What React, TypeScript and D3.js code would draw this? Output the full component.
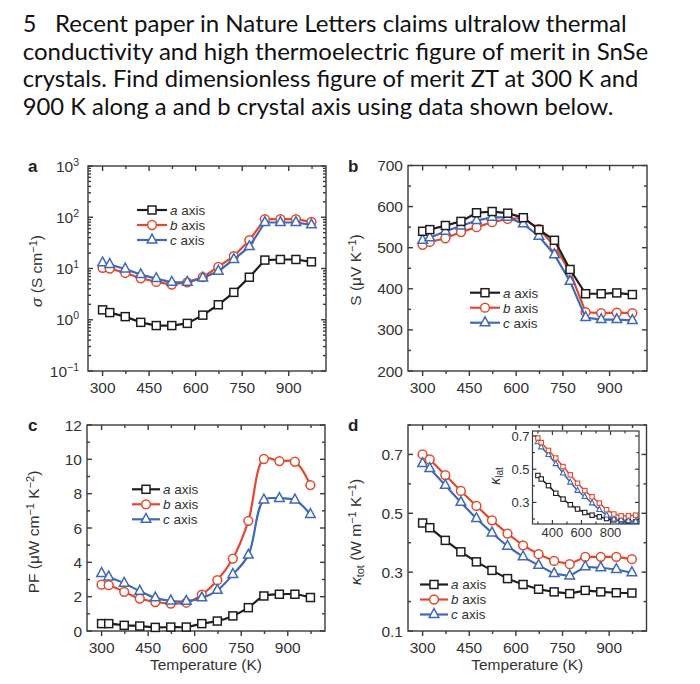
import React from 'react';
import * as d3 from 'd3';

// ---------------- data ----------------
const temperatures = [300, 323, 373, 423, 473, 523, 573, 623, 673, 723, 773, 823, 873, 923, 973];

const sigmaA = [1.56, 1.38, 1.15, 0.89, 0.77, 0.77, 0.85, 1.23, 1.96, 3.42, 6.76, 14.6, 15.0, 15.0, 13.5];
const sigmaB = [10.3, 10.0, 8.2, 6.45, 5.47, 4.85, 5.38, 6.76, 10.8, 17.5, 35.6, 92, 92, 92, 81.5];
const sigmaC = [12.9, 12.0, 9.8, 7.6, 6.36, 5.38, 5.38, 6.55, 8.87, 15.0, 26.7, 79, 79, 79, 71];

const seebeckA = [540, 544, 554, 564, 585, 588, 584, 573, 544, 518, 447, 388, 388, 390, 386];
const seebeckB = [507, 514, 523, 538, 550, 562, 570, 572, 546, 504, 441, 343, 341, 342, 341];
const seebeckC = [518, 524, 540, 553, 566, 574, 574, 558, 528, 483, 418, 330, 325, 325, 323];

const pfA = [0.43, 0.43, 0.33, 0.29, 0.21, 0.23, 0.23, 0.43, 0.58, 0.88, 1.36, 2.04, 2.14, 2.14, 1.95];
const pfB = [2.7, 2.67, 2.28, 1.89, 1.69, 1.6, 1.65, 2.12, 2.96, 4.22, 6.42, 10.02, 9.9, 9.86, 8.5];
const pfC = [3.35, 3.15, 2.78, 2.32, 1.93, 1.75, 1.73, 1.93, 2.37, 3.29, 4.42, 7.63, 7.72, 7.63, 6.79];

const kappaA = [0.467, 0.451, 0.408, 0.369, 0.335, 0.306, 0.278, 0.258, 0.242, 0.233, 0.227, 0.238, 0.233, 0.23, 0.229];
const kappaB = [0.7, 0.683, 0.63, 0.576, 0.525, 0.476, 0.431, 0.391, 0.361, 0.338, 0.327, 0.352, 0.352, 0.352, 0.344];
const kappaC = [0.669, 0.652, 0.595, 0.537, 0.482, 0.433, 0.388, 0.352, 0.323, 0.295, 0.287, 0.318, 0.315, 0.309, 0.298];

const kLatA = [0.462, 0.441, 0.401, 0.355, 0.32, 0.286, 0.26, 0.239, 0.223, 0.213, 0.203, 0.195, 0.189, 0.185, 0.183];
const kLatB = [0.688, 0.66, 0.613, 0.567, 0.516, 0.466, 0.415, 0.371, 0.334, 0.296, 0.256, 0.23, 0.219, 0.219, 0.223];
const kLatC = [0.664, 0.633, 0.587, 0.532, 0.476, 0.421, 0.371, 0.334, 0.296, 0.256, 0.223, 0.199, 0.195, 0.189, 0.185];

const seriesNames = ['a', 'b', 'c'];
const xTickLabels = [300, 450, 600, 750, 900];
const xMinorTicks = [375, 525, 675, 825, 975];
const insetXTicks = [400, 600, 800];
const insetXMinor = [300, 500, 700, 900];

const titleFirst = 'Recent paper in Nature Letters claims ultralow thermal';
const titleLines = [
  'conductivity and high thermoelectric figure of merit in SnSe',
  'crystals. Find dimensionless figure of merit ZT at 300 K and',
  '900 K along a and b crystal axis using data shown below.',
];

// ---------------- style / layout ----------------
const FONT = '"Liberation Sans", Arial, Helvetica, sans-serif';
const TXT = '#333';
const AXC = '#3a3a3a';
const COLORS: Record<string, string> = { a: '#1e1e1e', b: '#e04a2e', c: '#4068b8' };
const SHAPES: Record<string, string> = { a: 'square', b: 'circle', c: 'triangle' };
const INSET_SHAPES: Record<string, string> = { a: 'square', b: 'square', c: 'triangle' };
const X_DOMAIN: [number, number] = [253, 1020];
const TICK_FS = 15.5;
const TITLE_FS = 15.5;
const LEG_FS = 13.5;
const LEG_GAP = 15;

type Box = { x0: number; x1: number; y0: number; y1: number };

function Marker({ shape, x, y, s, color, sw }: any) {
  if (shape === 'square')
    return <rect x={x - s / 2} y={y - s / 2} width={s} height={s} fill="#fff" stroke={color} strokeWidth={sw} />;
  if (shape === 'circle') return <circle cx={x} cy={y} r={s / 2 + 0.4} fill="#fff" stroke={color} strokeWidth={sw} />;
  const h = s * 1.0;
  const w = s * 1.2;
  const pts = `${x},${y - (h * 2) / 3 - 0.5} ${x - w / 2},${y + h / 3 + 0.3} ${x + w / 2},${y + h / 3 + 0.3}`;
  return <polygon points={pts} fill="#fff" stroke={color} strokeWidth={sw} strokeLinejoin="miter" />;
}

function Series({ xs, ys, vals, name, curve, lw, s, sw, shapes }: any) {
  const color = COLORS[name];
  const shp = (shapes || SHAPES)[name];
  const line = d3
    .line<number>()
    .x((_, i) => xs(temperatures[i]))
    .y((d) => ys(d))
    .curve(curve || d3.curveLinear);
  return (
    <g>
      <path d={line(vals) || ''} fill="none" stroke={color} strokeWidth={lw} />
      {vals.map((v: number, i: number) => (
        <Marker key={i} shape={shp} x={xs(temperatures[i])} y={ys(v)} s={s} color={color} sw={sw} />
      ))}
    </g>
  );
}

function Frame({ b, xs, ys, xMajor, xMinor, yMajor, yMinor, majorLen = 5, minorLen = 3, sw = 1.4, bottomOut = true }: any) {
  const ls: any[] = [];
  let k = 0;
  const addX = (v: number, len: number) => {
    const x = xs(v);
    ls.push(<line key={k++} x1={x} x2={x} y1={b.y1} y2={bottomOut ? b.y1 + len : b.y1 - len} />);
    ls.push(<line key={k++} x1={x} x2={x} y1={b.y0} y2={b.y0 + len} />);
  };
  const addY = (v: number, len: number) => {
    const y = ys(v);
    ls.push(<line key={k++} x1={b.x0} x2={b.x0 + len} y1={y} y2={y} />);
    ls.push(<line key={k++} x1={b.x1} x2={b.x1 - len} y1={y} y2={y} />);
  };
  xMajor.forEach((v: number) => addX(v, majorLen));
  xMinor.forEach((v: number) => addX(v, minorLen));
  yMajor.forEach((v: number) => addY(v, majorLen));
  yMinor.forEach((v: number) => addY(v, minorLen));
  return (
    <g stroke={AXC} strokeWidth={sw} fill="none">
      {ls}
      <rect x={b.x0} y={b.y0} width={b.x1 - b.x0} height={b.y1 - b.y0} />
    </g>
  );
}

function XLabels({ b, xs, ticks, dy = 22, fs = TICK_FS }: any) {
  return (
    <g fontFamily={FONT} fontSize={fs} fill={TXT} textAnchor="middle">
      {ticks.map((t: number) => (
        <text key={t} x={xs(t)} y={b.y1 + dy}>
          {t}
        </text>
      ))}
    </g>
  );
}

function YLabels({ b, ys, ticks, fmt, fs = TICK_FS, gap = 5 }: any) {
  return (
    <g fontFamily={FONT} fontSize={fs} fill={TXT} textAnchor="end">
      {ticks.map((t: number) => (
        <text key={t} x={b.x0 - gap} y={ys(t) + fs * 0.36}>
          {fmt ? fmt(t) : t}
        </text>
      ))}
    </g>
  );
}

function Legend({ x1, x2, tx, mid }: any) {
  return (
    <g>
      {seriesNames.map((n, i) => {
        const y = mid + (i - 1) * LEG_GAP;
        const c = COLORS[n];
        return (
          <g key={n}>
            <line x1={x1} x2={x2} y1={y} y2={y} stroke={c} strokeWidth={2.2} />
            <Marker shape={SHAPES[n]} x={(x1 + x2) / 2} y={y} s={8} color={c} sw={1.5} />
            <text x={tx} y={y + 4.8} fontFamily={FONT} fontSize={LEG_FS} fill={TXT}>
              <tspan fontStyle="italic">{n}</tspan> axis
            </text>
          </g>
        );
      })}
    </g>
  );
}

function PanelLetter({ x, y, t }: any) {
  return (
    <text x={x} y={y} fontFamily={FONT} fontWeight="bold" fontSize={17} fill="#222">
      {t}
    </text>
  );
}

const boxA: Box = { x0: 88, x1: 326, y0: 166, y1: 371 };
const boxB: Box = { x0: 408, x1: 647, y0: 165.5, y1: 371 };
const boxC: Box = { x0: 87, x1: 325, y0: 425, y1: 631 };
const boxD: Box = { x0: 408, x1: 646.5, y0: 425, y1: 631 };
const boxIn: Box = { x0: 532.5, x1: 639, y0: 431, y1: 524 };

export default function App() {
  const xsA = d3.scaleLinear().domain(X_DOMAIN).range([boxA.x0, boxA.x1]);
  const ysA = d3.scaleLog().domain([0.1, 1000]).range([boxA.y1, boxA.y0]);
  const xsB = d3.scaleLinear().domain(X_DOMAIN).range([boxB.x0, boxB.x1]);
  const ysB = d3.scaleLinear().domain([200, 700]).range([boxB.y1, boxB.y0]);
  const xsC = d3.scaleLinear().domain(X_DOMAIN).range([boxC.x0, boxC.x1]);
  const ysC = d3.scaleLinear().domain([0, 12]).range([boxC.y1, boxC.y0]);
  const xsD = d3.scaleLinear().domain(X_DOMAIN).range([boxD.x0, boxD.x1]);
  const ysD = d3.scaleLinear().domain([0.1, 0.8]).range([boxD.y1, boxD.y0]);
  const xsI = d3.scaleLinear().domain([263, 996]).range([boxIn.x0, boxIn.x1]);
  const ysI = d3.scaleLinear().domain([0.17, 0.73]).range([boxIn.y1, boxIn.y0]);

  const logMajor = [0.1, 1, 10, 100, 1000];
  const logMinor: number[] = [];
  [0.1, 1, 10, 100].forEach((d) => {
    for (let m = 2; m <= 9; m++) logMinor.push(d * m);
  });
  const expLabel = (t: number) => {
    const e = Math.round(Math.log10(t));
    return (
      <>
        10
        <tspan dy={-6} fontSize={10.5}>
          {e < 0 ? '\u2212' + Math.abs(e) : String(e)}
        </tspan>
      </>
    );
  };

  const mainStyle = { lw: 2.2, s: 8, sw: 1.5 };
  const insetStyle = { lw: 1.5, s: 4.4, sw: 1.1, shapes: INSET_SHAPES };
  const smooth = d3.curveCatmullRom.alpha(0.5);

  return (
    <svg
      width={700}
      height={684}
      viewBox="0 0 700 684"
      style={{ position: 'absolute', left: 0, top: 0, background: '#fff' }}
    >
      <rect width={700} height={684} fill="#fff" />

      {/* Title */}
      <g fontFamily="Lato, 'Open Sans', sans-serif" fontSize={23} fill="#111">
        <text x={23} y={31.7}>
          5
        </text>
        <text x={55} y={31.7} textLength={571.7} lengthAdjust="spacingAndGlyphs">
          {titleFirst}
        </text>
        {titleLines.map((t, i) => (
          <text
            key={i}
            x={22.7}
            y={59.5 + i * 27.8}
            textLength={[625.6, 615.6, 590.6][i]}
            lengthAdjust="spacingAndGlyphs"
          >
            {t}
          </text>
        ))}
      </g>

      {/* Panel a */}
      <PanelLetter x={28} y={172} t="a" />
      <Frame b={boxA} xs={xsA} ys={ysA} xMajor={xTickLabels} xMinor={xMinorTicks} yMajor={logMajor} yMinor={logMinor} />
      <XLabels b={boxA} xs={xsA} ticks={xTickLabels} />
      <YLabels b={boxA} ys={ysA} ticks={logMajor} fmt={expLabel} gap={9} />
      <Series xs={xsA} ys={ysA} vals={sigmaB} name="b" {...mainStyle} />
      <Series xs={xsA} ys={ysA} vals={sigmaC} name="c" {...mainStyle} />
      <Series xs={xsA} ys={ysA} vals={sigmaA} name="a" {...mainStyle} />
      <Legend x1={137} x2={167} tx={170} mid={225} />
      <text transform="translate(42,271) rotate(-90)" textAnchor="middle" fontFamily={FONT} fontSize={TITLE_FS} fill={TXT}>
        <tspan fontStyle="italic">σ</tspan> (S cm
        <tspan dy={-5} fontSize={11}>
          −1
        </tspan>
        <tspan dy={5}>)</tspan>
      </text>

      {/* Panel b */}
      <PanelLetter x={348} y={172} t="b" />
      <Frame b={boxB} xs={xsB} ys={ysB} xMajor={xTickLabels} xMinor={xMinorTicks} yMajor={[200, 300, 400, 500, 600, 700]} yMinor={[250, 350, 450, 550, 650]} />
      <XLabels b={boxB} xs={xsB} ticks={xTickLabels} />
      <YLabels b={boxB} ys={ysB} ticks={[200, 300, 400, 500, 600, 700]} />
      <Series xs={xsB} ys={ysB} vals={seebeckB} name="b" {...mainStyle} />
      <Series xs={xsB} ys={ysB} vals={seebeckC} name="c" {...mainStyle} />
      <Series xs={xsB} ys={ysB} vals={seebeckA} name="a" {...mainStyle} />
      <Legend x1={470} x2={500} tx={503} mid={307.7} />
      <text transform="translate(361,270) rotate(-90)" textAnchor="middle" fontFamily={FONT} fontSize={TITLE_FS} fill={TXT}>
        S (μV K
        <tspan dy={-5} fontSize={11}>
          −1
        </tspan>
        <tspan dy={5}>)</tspan>
      </text>

      {/* Panel c */}
      <PanelLetter x={28} y={431} t="c" />
      <Frame b={boxC} xs={xsC} ys={ysC} xMajor={xTickLabels} xMinor={xMinorTicks} yMajor={[0, 2, 4, 6, 8, 10, 12]} yMinor={[1, 3, 5, 7, 9, 11]} />
      <XLabels b={boxC} xs={xsC} ticks={xTickLabels} />
      <YLabels b={boxC} ys={ysC} ticks={[0, 2, 4, 6, 8, 10, 12]} />
      <Series xs={xsC} ys={ysC} vals={pfB} name="b" curve={smooth} {...mainStyle} />
      <Series xs={xsC} ys={ysC} vals={pfC} name="c" curve={smooth} {...mainStyle} />
      <Series xs={xsC} ys={ysC} vals={pfA} name="a" curve={smooth} {...mainStyle} />
      <Legend x1={132} x2={160} tx={163} mid={504.3} />
      <text transform="translate(39,532) rotate(-90)" textAnchor="middle" fontFamily={FONT} fontSize={TITLE_FS} fill={TXT}>
        PF (μW cm
        <tspan dy={-5} fontSize={11}>
          −1
        </tspan>
        <tspan dy={5}> K</tspan>
        <tspan dy={-5} fontSize={11}>
          −2
        </tspan>
        <tspan dy={5}>)</tspan>
      </text>
      <text x={(boxC.x0 + boxC.x1) / 2} y={670} textAnchor="middle" fontFamily={FONT} fontSize={TITLE_FS} fill={TXT}>
        Temperature (K)
      </text>

      {/* Panel d */}
      <PanelLetter x={348} y={431} t="d" />
      <Frame b={boxD} xs={xsD} ys={ysD} xMajor={xTickLabels} xMinor={xMinorTicks} yMajor={[0.1, 0.3, 0.5, 0.7]} yMinor={[0.2, 0.4, 0.6, 0.8]} />
      <XLabels b={boxD} xs={xsD} ticks={xTickLabels} />
      <YLabels b={boxD} ys={ysD} ticks={[0.1, 0.3, 0.5, 0.7]} fmt={(t: number) => t.toFixed(1)} />
      <Series xs={xsD} ys={ysD} vals={kappaB} name="b" {...mainStyle} />
      <Series xs={xsD} ys={ysD} vals={kappaC} name="c" {...mainStyle} />
      <Series xs={xsD} ys={ysD} vals={kappaA} name="a" {...mainStyle} />
      <Legend x1={420} x2={448} tx={451} mid={599.5} />
      <text transform="translate(361,532) rotate(-90)" textAnchor="middle" fontFamily={FONT} fontSize={TITLE_FS} fill={TXT}>
        <tspan fontStyle="italic">κ</tspan>
        <tspan dy={3} fontSize={11}>
          tot
        </tspan>
        <tspan dy={-3}> (W m</tspan>
        <tspan dy={-5} fontSize={11}>
          −1
        </tspan>
        <tspan dy={5}> K</tspan>
        <tspan dy={-5} fontSize={11}>
          −1
        </tspan>
        <tspan dy={5}>)</tspan>
      </text>
      <text x={(boxD.x0 + boxD.x1) / 2} y={670} textAnchor="middle" fontFamily={FONT} fontSize={TITLE_FS} fill={TXT}>
        Temperature (K)
      </text>

      {/* Inset */}
      <rect x={boxIn.x0} y={boxIn.y0} width={boxIn.x1 - boxIn.x0} height={boxIn.y1 - boxIn.y0} fill="#fff" />
      <defs>
        <clipPath id="insetClip">
          <rect x={boxIn.x0} y={boxIn.y0} width={boxIn.x1 - boxIn.x0} height={boxIn.y1 - boxIn.y0} />
        </clipPath>
      </defs>
      <g clipPath="url(#insetClip)">
        <Series xs={xsI} ys={ysI} vals={kLatA} name="a" {...insetStyle} />
        <Series xs={xsI} ys={ysI} vals={kLatC} name="c" {...insetStyle} />
        <Series xs={xsI} ys={ysI} vals={kLatB} name="b" {...insetStyle} />
      </g>
      <Frame
        b={boxIn}
        xs={xsI}
        ys={ysI}
        xMajor={insetXTicks}
        xMinor={insetXMinor}
        yMajor={[0.3, 0.5, 0.7]}
        yMinor={[0.2, 0.4, 0.6]}
        majorLen={4}
        minorLen={2.5}
        sw={1.2}
        bottomOut={false}
      />
      <XLabels b={boxIn} xs={xsI} ticks={insetXTicks} dy={12.5} fs={13} />
      <YLabels b={boxIn} ys={ysI} ticks={[0.3, 0.5, 0.7]} fmt={(t: number) => t.toFixed(1)} fs={13} gap={3} />
      <text transform="translate(500,476) rotate(-90)" textAnchor="middle" fontFamily={FONT} fontSize={14} fill={TXT}>
        <tspan fontStyle="italic">κ</tspan>
        <tspan dy={3} fontSize={10}>
          lat
        </tspan>
      </text>
    </svg>
  );
}
